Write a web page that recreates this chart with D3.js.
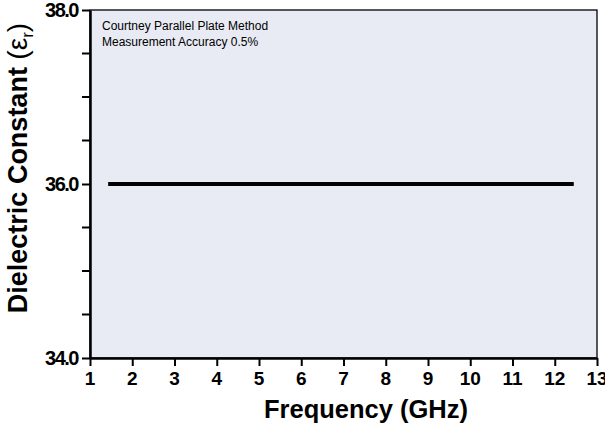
<!DOCTYPE html>
<html>
<head>
<meta charset="utf-8">
<script src="https://cdn.jsdelivr.net/npm/d3@7"></script>
<style>
body{margin:0;background:#fff;}
text{font-family:"Liberation Sans",Arial,Helvetica,sans-serif;}
</style>
</head>
<body>
<div class="chart"></div>
<script>
var width=605,
    height=423,
    margin={top:10,right:8,bottom:65,left:90};

// data
var frequency=[1.43,12.45];
var dielectric=[36.0,36.0];
var xTicks=[1,2,3,4,5,6,7,8,9,10,11,12,13];
var yTicks=[34,36,38];
var yMinorTicks=[34.5,35,35.5,36.5,37,37.5];
var notes=['Courtney Parallel Plate Method','Measurement Accuracy 0.5%'];

var points=frequency.map((f,i)=>({f:f,e:dielectric[i]}));

var svg=d3.select('.chart')
    .append('svg')
        .attr('width',width)
        .attr('height',height);

var x=d3.scaleLinear()
    .domain([1,13])
    .range([margin.left,width-margin.right]);

var y=d3.scaleLinear()
    .domain([34,38])
    .range([height-margin.bottom,margin.top]);

// plot background + thin frame
svg.append('rect')
    .attr('x',x(1))
    .attr('y',y(38))
    .attr('width',x(13)-x(1))
    .attr('height',y(34)-y(38))
    .attr('fill','#e8eaf4')
    .attr('stroke','#000')
    .attr('stroke-width',1.3);

// minor y ticks
svg.selectAll('.minor')
    .data(yMinorTicks)
    .enter()
    .append('line')
    .attr('x1',x(1)-8)
    .attr('x2',x(1))
    .attr('y1',d=>y(d))
    .attr('y2',d=>y(d))
    .attr('stroke','#000')
    .attr('stroke-width',2);

// axes: lines only, labels drawn below
var xAxis=svg.append('g')
    .attr('transform',`translate(0,${y(34)})`)
    .call(d3.axisBottom(x).tickValues(xTicks).tickFormat('').tickSize(8).tickSizeOuter(0));

var yAxis=svg.append('g')
    .attr('transform',`translate(${x(1)},0)`)
    .call(d3.axisLeft(y).tickValues(yTicks).tickFormat('').tickSize(8).tickSizeOuter(0));

[xAxis,yAxis].forEach(g=>{
    g.select('.domain').attr('stroke','#000').attr('stroke-width',2.5);
    g.selectAll('.tick line').attr('stroke','#000').attr('stroke-width',2);
});

svg.selectAll('.xlab')
    .data(xTicks)
    .enter()
    .append('text')
    .attr('class','xlab')
    .attr('x',d=>x(d))
    .attr('y',y(34)+27)
    .attr('text-anchor','middle')
    .attr('font-size',19)
    .attr('font-weight','bold')
    .text(d=>d);

svg.selectAll('.ylab')
    .data(yTicks)
    .enter()
    .append('text')
    .attr('class','ylab')
    .attr('x',x(1)-12)
    .attr('y',d=>y(d)+7)
    .attr('text-anchor','end')
    .attr('font-size',20)
    .attr('font-weight','bold')
    .attr('letter-spacing','-1.5')
    .text(d=>d3.format('.1f')(d));

// data line
var line=d3.line()
    .x(d=>x(d.f))
    .y(d=>y(d.e));

svg.append('path')
    .datum(points)
    .attr('d',line)
    .attr('fill','none')
    .attr('stroke','#000')
    .attr('stroke-width',4);

// notes
svg.selectAll('.note')
    .data(notes)
    .enter()
    .append('text')
    .attr('x',x(1)+12)
    .attr('y',(d,i)=>30+i*16)
    .style('font-family','"Liberation Sans Narrow","Arial Narrow",sans-serif')
    .style('font-size','12px')
    .attr('fill','#000')
    .text(d=>d);

// axis titles
svg.append('text')
    .attr('x',366)
    .attr('y',418)
    .attr('text-anchor','middle')
    .style('font-size','25.5px')
    .style('font-weight','bold')
    .text('Frequency (GHz)');

var yt=svg.append('text')
    .attr('transform',`translate(27,${168}) rotate(-90)`)
    .attr('text-anchor','middle')
    .style('font-size','27px')
    .style('font-weight','bold');
yt.append('tspan').text('Dielectric Constant ');
yt.append('tspan').style('font-weight','normal').style('font-size','28px').text('(ε');
yt.append('tspan').style('font-weight','normal').style('font-size','17px').attr('dy',6).text('r');
yt.append('tspan').style('font-weight','normal').style('font-size','28px').attr('dy',-6).text(')');
</script>
</body>
</html>
